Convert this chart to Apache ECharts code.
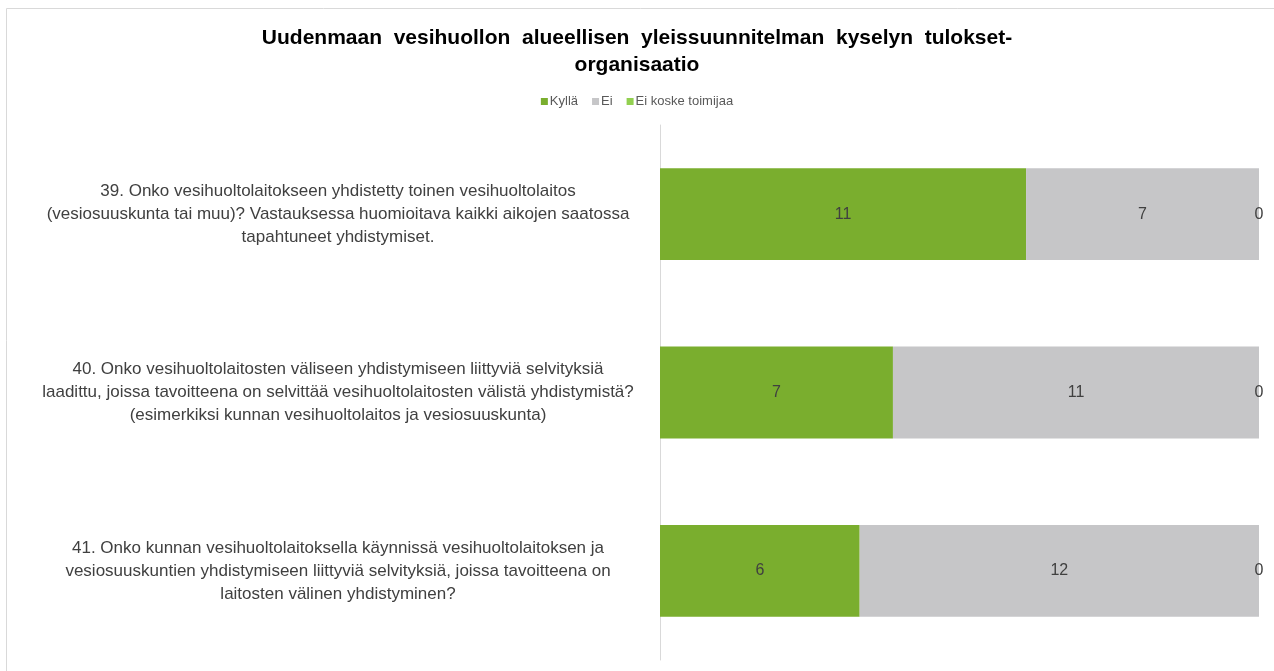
<!DOCTYPE html>
<html>
<head>
<meta charset="utf-8">
<script src="https://cdn.jsdelivr.net/npm/echarts@6/dist/echarts.min.js"></script>
<style>
html,body{margin:0;padding:0;background:#fff;}
#chart{width:1274px;height:671px;}
</style>
</head>
<body>
<div id="chart"></div>
<script>
const titleText = "Uudenmaan  vesihuollon  alueellisen  yleissuunnitelman  kyselyn  tulokset-\norganisaatio";
const categories = [
  "39. Onko vesihuoltolaitokseen yhdistetty toinen vesihuoltolaitos\n(vesiosuuskunta tai muu)? Vastauksessa huomioitava kaikki aikojen saatossa\ntapahtuneet yhdistymiset.",
  "40. Onko vesihuoltolaitosten väliseen yhdistymiseen liittyviä selvityksiä\nlaadittu, joissa tavoitteena on selvittää vesihuoltolaitosten välistä yhdistymistä?\n(esimerkiksi kunnan vesihuoltolaitos ja vesiosuuskunta)",
  "41. Onko kunnan vesihuoltolaitoksella käynnissä vesihuoltolaitoksen ja\nvesiosuuskuntien yhdistymiseen liittyviä selvityksiä, joissa tavoitteena on\nlaitosten välinen yhdistyminen?"
];
const seriesNames = ["Kyllä", "Ei", "Ei koske toimijaa"];
const kylla = [11, 7, 6];
const ei = [7, 11, 12];
const eiKoske = [0, 0, 0];
const colors = ["#7AAE2E", "#C6C6C8", "#92D050"];

const chart = echarts.init(document.getElementById('chart'));
const labelStyle = {show: true, position: 'inside', color: '#404040', fontSize: 16, fontFamily: 'Liberation Sans, Arial, sans-serif'};
chart.setOption({
  animation: false,
  textStyle: {fontFamily: 'Liberation Sans, Arial, sans-serif'},
  graphic: [{
    type: 'rect', silent: true,
    shape: {x: 6.5, y: 8.5, width: 1400, height: 800},
    style: {fill: 'none', stroke: '#d9d9d9', lineWidth: 1}
  }],
  title: {
    text: titleText,
    left: 'center',
    top: 20,
    textStyle: {fontSize: 21, fontWeight: 'bold', color: '#000', lineHeight: 27, fontFamily: 'Liberation Sans, Arial, sans-serif'}
  },
  legend: {
    data: seriesNames,
    left: 'center',
    top: 90,
    icon: 'rect',
    itemWidth: 7, itemHeight: 7, itemGap: 14,
    textStyle: {fontSize: 13, color: '#595959', padding: [0, 0, 0, -3]}
  },
  grid: {left: 660, right: 15, top: 125, bottom: 11, containLabel: false},
  xAxis: {
    type: 'value', min: 0, max: 18, show: false
  },
  yAxis: {
    type: 'category',
    data: categories,
    inverse: true,
    axisLine: {show: true, lineStyle: {color: '#d9d9d9', width: 1}},
    axisTick: {show: false},
    axisLabel: {
      margin: 322, align: 'center', fontSize: 17, lineHeight: 23, color: '#404040'
    }
  },
  series: [
    {name: seriesNames[0], type: 'bar', stack: 's', data: kylla, barWidth: '51.5%', itemStyle: {color: colors[0]}, label: labelStyle},
    {name: seriesNames[1], type: 'bar', stack: 's', data: ei, barWidth: '51.5%', itemStyle: {color: colors[1]}, label: labelStyle},
    {name: seriesNames[2], type: 'bar', stack: 's', data: eiKoske, barWidth: '51.5%', itemStyle: {color: colors[2]}, label: labelStyle}
  ]
});
</script>
</body>
</html>
